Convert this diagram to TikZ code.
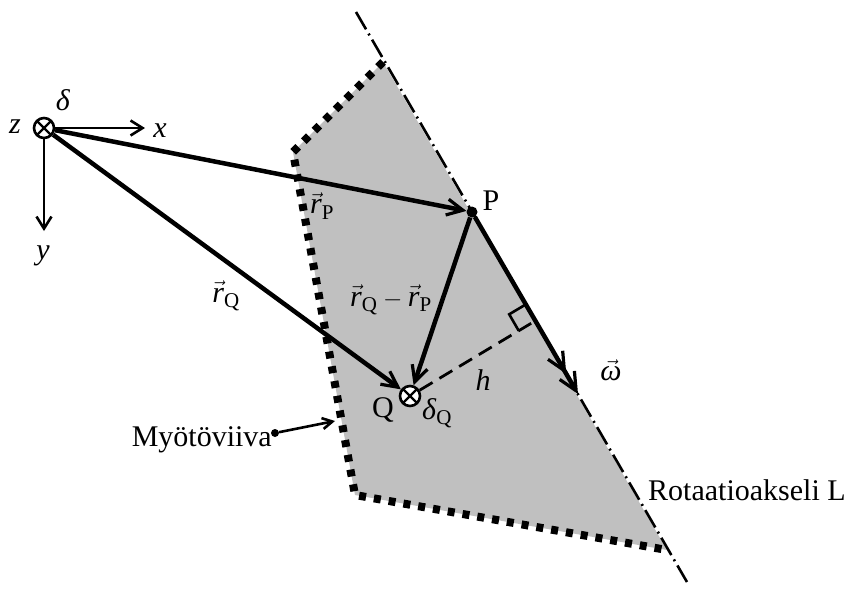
\documentclass[tikz,border=0pt]{standalone}
\usepackage{amsmath}
\usepackage{fontspec}
\setmainfont{Liberation Serif}
\usetikzlibrary{arrows.meta}
\begin{document}
\begin{tikzpicture}[x=1pt,y=-1pt,font=\fontsize{30}{36}\selectfont,
  vecline/.style={line width=4.5pt,-{Straight Barb[length=16pt,width=16pt,line width=3.2pt]}},
  axisline/.style={line width=2.6pt,-{Straight Barb[length=12pt,width=15pt,line width=2.6pt]}},
  omegaline/.style={line width=4.5pt,-{Straight Barb[length=18pt,width=17pt,line width=3.2pt]Straight Barb[length=18pt,width=17pt,line width=3.2pt]}},
  pointer/.style={line width=2.6pt,-{Straight Barb[length=10pt,width=11pt,line width=2.6pt]}},
  dashdotline/.style={line width=2.6pt,dash pattern=on 20pt off 5pt on 2pt off 5pt},
  borderline/.style={line width=8pt,dash pattern=on 7pt off 8pt},
  hline/.style={line width=2.8pt,dash pattern=on 15pt off 8pt},
  xnode/.style={circle,draw,fill=white,line width=2.6pt,minimum size=20pt,inner sep=0pt,
    path picture={\draw[line width=2.2pt] (path picture bounding box.north west) -- (path picture bounding box.south east)
      (path picture bounding box.north east) -- (path picture bounding box.south west);}},
  dotnode/.style={circle,fill=black,inner sep=0pt,minimum size=#1},
  lab/.style={inner sep=0pt}]
\useasboundingbox (0,0) rectangle (851,590);
% region
\coordinate (A) at (383,62);
\coordinate (B) at (293,152);
\coordinate (C) at (355,495);
\coordinate (D) at (667,550);
\fill[fill={rgb,255:red,192;green,192;blue,192}] (A) -- (B) -- (C) -- (D) -- cycle;
\draw[borderline] (A) -- (B) -- (C) -- (D);
% axis L
\coordinate (Ltop) at (356,12);
\coordinate (Lbot) at (687,582);
\draw[dashdotline] (Ltop) -- (Lbot);
% points
\node[xnode] (O) at (44,128) {};
\node[dotnode=11pt] (P) at (472,212) {};
\node[xnode] (Q) at (410,396) {};
\coordinate (XT) at (145,128);
\coordinate (YT) at (44,231);
\coordinate (W) at (578,394);
\coordinate (F) at (535,321);
% coordinate axes
\draw[axisline] (O) -- (XT);
\draw[axisline] (O) -- (YT);
% vectors
\draw[vecline] (O) -- (P);
\draw[vecline] (O) -- (Q);
\draw[vecline] (P) -- (Q);
\draw[omegaline] (P) -- (W);
\draw[hline] (Q) -- (F);
\draw[line width=2.6pt] (525.5,304.6) -- (509.2,314.3) -- (518.7,330.7);
% labels
\node[lab] (lz) at (15,127) {\textit{z}};
\node[lab] (ld) at (63,100) {\textit{δ}};
\node[lab] (lx) at (160,131) {\textit{x}};
\node[lab] (ly) at (43,256) {\textit{y}};
\node[lab] (lrp) at (322,206) {$\vec{\textit{r}}_{\text{P}}$};
\node[lab] (lrq) at (226,296) {$\vec{\textit{r}}_{\text{Q}}$};
\node[lab] (lP) at (491,201) {P};
\node[lab] (lrqp) at (391,300) {$\vec{\textit{r}}_{\text{Q}} - \vec{\textit{r}}_{\text{P}}$};
\node[lab] (lh) at (483,380) {\textit{h}};
\node[lab] (lw) at (611,370) {$\vec{\textit{ω}}$};
\node[lab] (lQ) at (383,410) {Q};
\node[lab] (ldq) at (437,413) {\textit{δ}$_{\text{Q}}$};
\node[lab,anchor=east] (lm) at (272,440) {Myötöviiva};
\node[dotnode=8pt] (md) at (275,433) {};
\coordinate (mt) at (335,421);
\draw[pointer] (md) -- (mt);
\node[lab,anchor=west] (lL) at (648,490) {Rotaatioakseli L};
\end{tikzpicture}
\end{document}
